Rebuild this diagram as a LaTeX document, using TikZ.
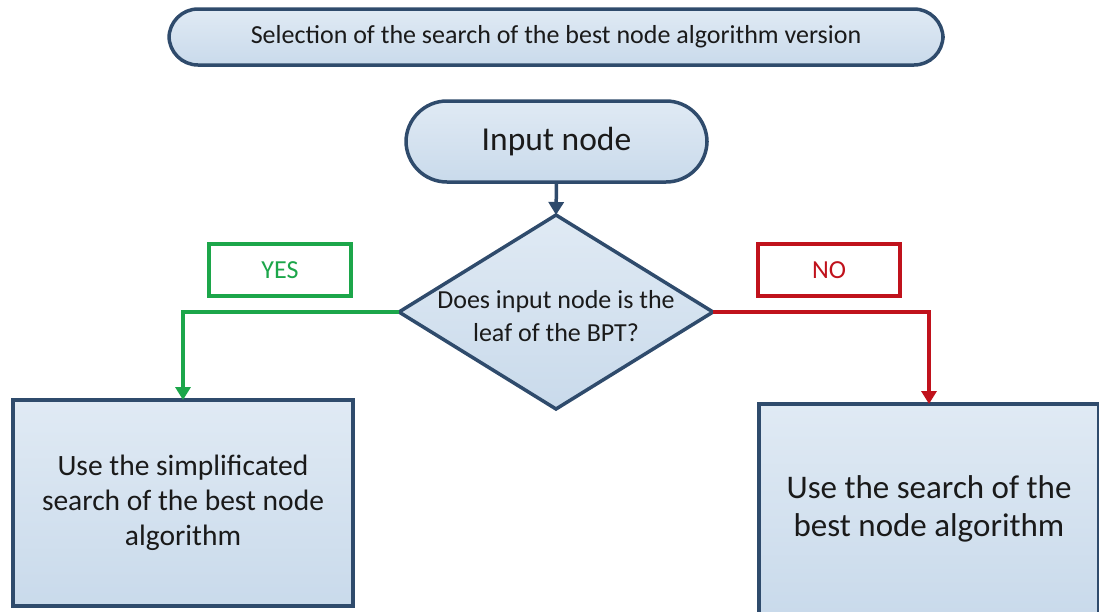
\documentclass[tikz,border=0pt]{standalone}
\usepackage{fontspec}
\setmainfont{Carlito}
\usetikzlibrary{shapes.geometric,arrows.meta}
\definecolor{bordc}{HTML}{2F4B6C}
\definecolor{filltop}{HTML}{E0EAF4}
\definecolor{fillbot}{HTML}{C9DAEB}
\definecolor{yesc}{HTML}{1CA64A}
\definecolor{noc}{HTML}{C0121C}
\definecolor{txt}{HTML}{1A1A1A}
\tikzset{
  blockbase/.style={draw=bordc, line width=3.5pt, top color=filltop, bottom color=fillbot, text=txt, align=center, inner sep=0pt, outer sep=0pt},
  pill/.style={blockbase, rounded corners=#1},
  procbox/.style={blockbase, rectangle},
  decision/.style={blockbase, diamond},
  labelbox/.style={draw=#1, line width=3.5pt, fill=white, text=#1, minimum width=142pt, minimum height=52pt, inner sep=0pt, outer sep=0pt, font=\fontsize{26}{30}\selectfont},
  flow/.style={line width=3.5pt, draw=#1, -{Triangle[width=15pt,length=13pt]}, line join=miter}
}
\begin{document}
\begin{tikzpicture}[x=1pt,y=-1pt]
\useasboundingbox (0,0) rectangle (1099,611);
\node[pill=29pt, minimum width=774pt, minimum height=56pt, font=\fontsize{26}{30}\selectfont] (title) at (556,37) {Selection of the search of the best node algorithm version};
\node[pill=41pt, minimum width=301pt, minimum height=81pt, font=\fontsize{33.5}{38}\selectfont] (input) at (556.5,141.5) {Input node};
\node[decision, minimum width=314pt, minimum height=194pt] (dec) at (556,312) {};
\node[font=\fontsize{26}{33}\selectfont, align=center, text=txt] (dectext) at (556,316) {Does input node is the\\leaf of the BPT?};
\node[labelbox=yesc] (yes) at (280,270) {YES};
\node[labelbox=noc] (no) at (829,270) {NO};
\node[procbox, minimum width=340pt, minimum height=206pt, font=\fontsize{29.5}{35}\selectfont] (left) at (183,503) {Use the simplificated\\search of the best node\\algorithm};
\node[procbox, minimum width=340pt, minimum height=210pt, font=\fontsize{33}{38}\selectfont] (right) at (929,509) {Use the search of the\\best node algorithm};
\draw[flow=bordc] (input.south) -- (dec.north);
\draw[flow=yesc] (dec.west) -| (left.north);
\draw[flow=noc] (dec.east) -| (right.north);
\end{tikzpicture}
\end{document}
